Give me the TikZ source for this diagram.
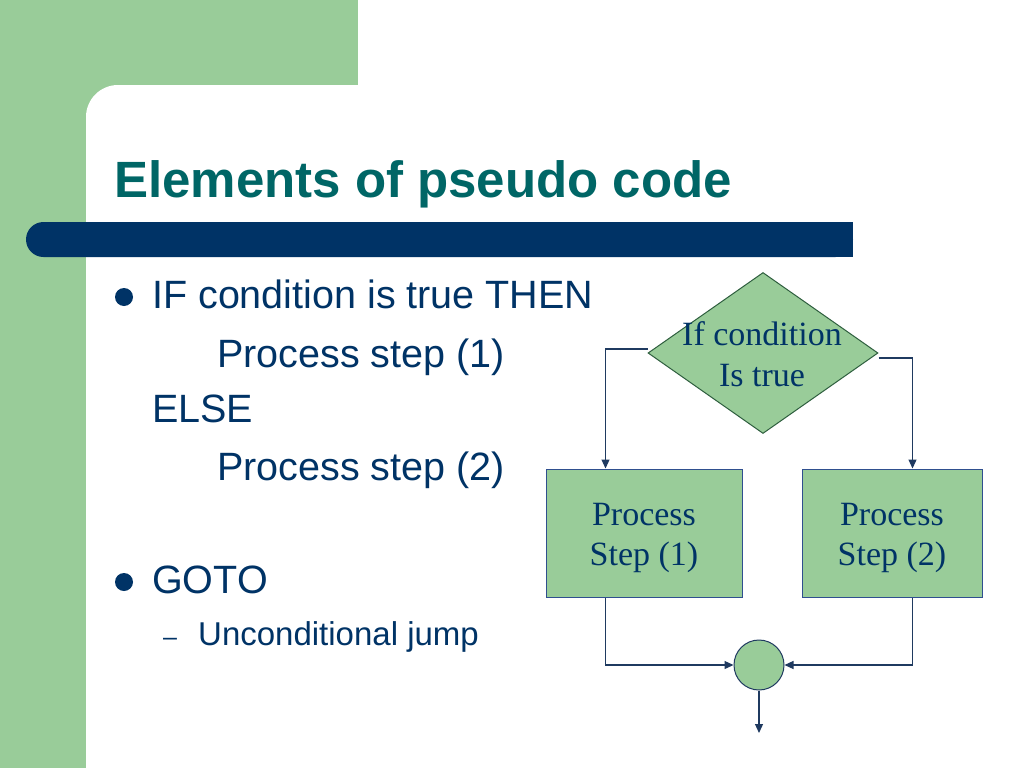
\documentclass[tikz,border=0pt]{standalone}
\usepackage{fontspec}
\setmainfont{Liberation Sans}
\newfontfamily\serifface{Liberation Serif}
\usetikzlibrary{shapes.geometric,arrows.meta,calc}
\definecolor{slidegreen}{HTML}{99CC99}
\definecolor{barnavy}{HTML}{003366}
\definecolor{titleteal}{HTML}{006666}
\definecolor{textnavy}{HTML}{003366}
\definecolor{linenavy}{HTML}{1F3A60}
\definecolor{diaborder}{HTML}{2E5E3E}
\definecolor{boxborder}{HTML}{2F4F8F}
\tikzset{
  bodytext/.style={anchor=base west, inner sep=0, text=textnavy, font=\fontsize{39.5}{39.5}\selectfont},
  subtext/.style={anchor=base west, inner sep=0, text=textnavy, font=\fontsize{33}{33}\selectfont},
  decision/.style={diamond, draw=diaborder, fill=slidegreen, line width=1pt, inner sep=0, minimum width=230pt, minimum height=161pt},
  procbox/.style={rectangle, draw=boxborder, fill=slidegreen, line width=1pt, minimum width=#1, minimum height=128pt, align=center, text=textnavy, font=\serifface\fontsize{34}{40}\selectfont},
  joiner/.style={circle, draw=linenavy, fill=slidegreen, line width=1pt, minimum size=50pt, inner sep=0},
  flowtext/.style={align=center, inner sep=0, text=textnavy, font=\serifface\fontsize{34}{41}\selectfont},
  arr/.style={draw=linenavy, line width=1.2pt, -{Triangle[length=9pt,width=8pt]}}
}
\begin{document}
\begin{tikzpicture}[x=1pt,y=-1pt]
\useasboundingbox (0,0) rectangle (1024,768);
% background
\fill[white] (0,0) rectangle (1024,768);
\fill[slidegreen] (0,0) rectangle (358,120);
\fill[slidegreen] (0,0) rectangle (86,768);
\fill[white, rounded corners=32pt] (86,800) -- (86,85) -- (420,85) -- (420,800) -- cycle;
% title bar
\fill[barnavy, rounded corners=17.5pt] (26,222) rectangle (853,257);
\fill[barnavy] (800,222) rectangle (853,257);
% title
\node[anchor=base west, inner sep=0, text=titleteal, font=\bfseries\fontsize{51}{51}\selectfont] (title) at (114,197) {Elements of pseudo code};
% bullets
\fill[textnavy] (124,297) circle (9);
\fill[textnavy] (124,582) circle (9);
\node[bodytext] (l1) at (152,308) {IF condition is true THEN};
\node[bodytext] (l2) at (217,367) {Process step (1)};
\node[bodytext] (l3) at (152,422) {ELSE};
\node[bodytext] (l4) at (217,480) {Process step (2)};
\node[bodytext] (l5) at (152,593) {GOTO};
\node[anchor=base west, inner sep=0, text=textnavy, font=\fontsize{25}{25}\selectfont] (dash) at (163,645) {–};
\node[subtext] (l6) at (198,645) {Unconditional jump};
% flowchart
\node[decision] (d) at (763,353) {};
\node[flowtext] (dtext) at (762,354) {If condition\\Is true};
\node[procbox=196pt] (b1) at (644,533) {\rule{0pt}{33pt}Process\\Step (1)};
\node[procbox=180pt] (b2) at (892,533) {\rule{0pt}{33pt}Process\\Step (2)};
\node[joiner] (c) at (759,665) {};
\coordinate (out) at (759,733);
\draw[arr] ($(d.west)+(0,-4)$) -| ($(b1.north west)+(60,0)$);
\draw[arr] ($(d.east)+(0,5)$) -| ($(b2.north west)+(111,0)$);
\draw[arr] ($(b1.south west)+(60,0)$) |- (c.west);
\draw[arr] ($(b2.south west)+(111,0)$) |- (c.east);
\draw[arr] (c.south) -- (out);
\end{tikzpicture}
\end{document}
